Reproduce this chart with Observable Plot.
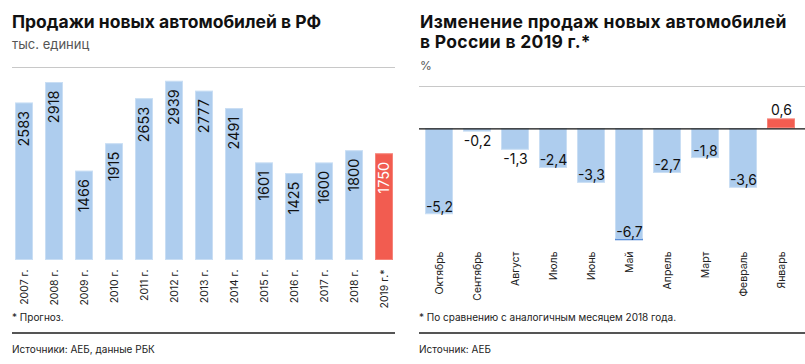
<!DOCTYPE html>
<html><head><meta charset="utf-8">
<script src="https://cdn.jsdelivr.net/npm/d3@7"></script>
<script src="https://cdn.jsdelivr.net/npm/@observablehq/plot@0.6"></script>
<style>
body{margin:0;width:805px;height:364px;position:relative;font-family:Inter,"Noto Sans",sans-serif;background:#fff;overflow:hidden;color:#111}
.abs{position:absolute;white-space:nowrap}
.title{font-weight:700;font-size:17.5px;line-height:20px;color:#111}
.sub{font-size:13px;color:#555}
.note{font-size:10px;color:#222}
.grayline{height:0;border-top:1.5px solid #c8c8c8}
.darkline{height:0;border-top:2px solid #555}
#left,#right{position:absolute}
#left{left:0;top:60px}
#right{left:400px;top:80px}
</style></head><body>
<div class="abs title" style="left:12px;top:12px">Продажи новых автомобилей в РФ</div>
<div class="abs sub" style="left:12px;top:36px">тыс. единиц</div>
<div class="abs grayline" style="left:12px;top:67px;width:383px"></div>

<div class="abs title" style="left:420px;top:12px;letter-spacing:0.3px">Изменение продаж новых автомобилей<br>в России в 2019 г.*</div>
<div class="abs sub" style="left:420px;top:58px;font-size:12px">%</div>
<div class="abs grayline" style="left:419px;top:86px;width:386px"></div>

<div id="left"></div>
<div id="right"></div>

<div class="abs note" style="left:12px;top:311px">* Прогноз.</div>
<div class="abs darkline" style="left:12px;top:332px;width:383px"></div>
<div class="abs note" style="left:12px;top:343px">Источники: АЕБ, данные РБК</div>

<div class="abs note" style="left:419px;top:311px">* По сравнению с аналогичным месяцем 2018 года.</div>
<div class="abs darkline" style="left:419px;top:332px;width:386px"></div>
<div class="abs note" style="left:419px;top:343px">Источник: АЕБ</div>

<script>
const years = ["2007 г.","2008 г.","2009 г.","2010 г.","2011 г.","2012 г.","2013 г.","2014 г.","2015 г.","2016 г.","2017 г.","2018 г.","2019 г.*"];
const sales = [2583,2918,1466,1915,2653,2939,2777,2491,1601,1425,1600,1800,1750];
const forecastYear = "2019 г.*";

const months = ["Октябрь","Сентябрь","Август","Июль","Июнь","Май","Апрель","Март","Февраль","Январь"];
const change = [-5.2,-0.2,-1.3,-2.4,-3.3,-6.7,-2.7,-1.8,-3.6,0.6];

const BLUE = "#aecdee", BLUE_EDGE = "#c9def4";
const RED = "#f25c50", RED_EDGE = "#f6847a";

const salesData = years.map((y, i) => ({year: y, value: sales[i], forecast: y === forecastYear}));
const changeData = months.map((m, i) => ({month: m, value: change[i]}));
const fmt = v => v.toFixed(1).replace(".", ",");

const left = Plot.plot({
  width: 400, height: 250,
  marginLeft: 12, marginRight: 4, marginTop: 17, marginBottom: 50,
  style: {fontFamily: "Inter, 'Noto Sans', sans-serif", fontSize: "10.5px", color: "#222", background: "transparent"},
  color: {type: "identity"},
  x: {domain: years, paddingInner: 0.386, paddingOuter: 0, label: null, tickSize: 0, tickRotate: -90, tickPadding: 9},
  y: {domain: [0, 3000], axis: null},
  marks: [
    Plot.barY(salesData, {x: "year", y: "value", fill: d => d.forecast ? RED : BLUE, stroke: d => d.forecast ? RED_EDGE : BLUE_EDGE, strokeWidth: 1, inset: 0.5}),
    Plot.text(salesData, {x: "year", y: "value", text: d => String(d.value), rotate: -90, textAnchor: "end", dy: 8, fontSize: 14.5, fill: d => d.forecast ? "#fff" : "#111"})
  ]
});
document.getElementById("left").append(left);

const inside = d => d.value <= -1.5;
const right = Plot.plot({
  width: 405, height: 240,
  marginLeft: 19, marginRight: 0, marginTop: 7, marginBottom: 76,
  style: {fontFamily: "Inter, 'Noto Sans', sans-serif", fontSize: "10.5px", color: "#222", background: "transparent"},
  color: {type: "identity"},
  x: {domain: months, paddingInner: 0.255, paddingOuter: 0.172, align: 0.38, label: null, tickSize: 0, tickRotate: -90, tickPadding: 7},
  y: {domain: [-7, 2.5], axis: null},
  marks: [
    Plot.barY(changeData, {x: "month", y: "value", fill: d => d.value > 0 ? RED : BLUE, stroke: d => d.value > 0 ? RED_EDGE : BLUE_EDGE, strokeWidth: 1, inset: 0.5}),
    Plot.tickY(changeData.filter(d => d.month === "Май"), {x: "month", y: "value", stroke: "#5a8fd8", strokeWidth: 1.5}),
    Plot.ruleY([0], {stroke: "#111", strokeWidth: 1.2}),
    Plot.text(changeData.filter(inside), {x: "month", y: "value", text: d => fmt(d.value), lineAnchor: "bottom", dy: -3, fontSize: 14, fill: "#111"}),
    Plot.text(changeData.filter(d => !inside(d) && d.value < 0), {x: "month", y: "value", text: d => fmt(d.value), lineAnchor: "top", dy: 4, fontSize: 14, fill: "#111"}),
    Plot.text(changeData.filter(d => d.value > 0), {x: "month", y: "value", text: d => fmt(d.value), lineAnchor: "bottom", dy: -4, fontSize: 14, fill: "#111"})
  ]
});
document.getElementById("right").append(right);
</script>
</body></html>
